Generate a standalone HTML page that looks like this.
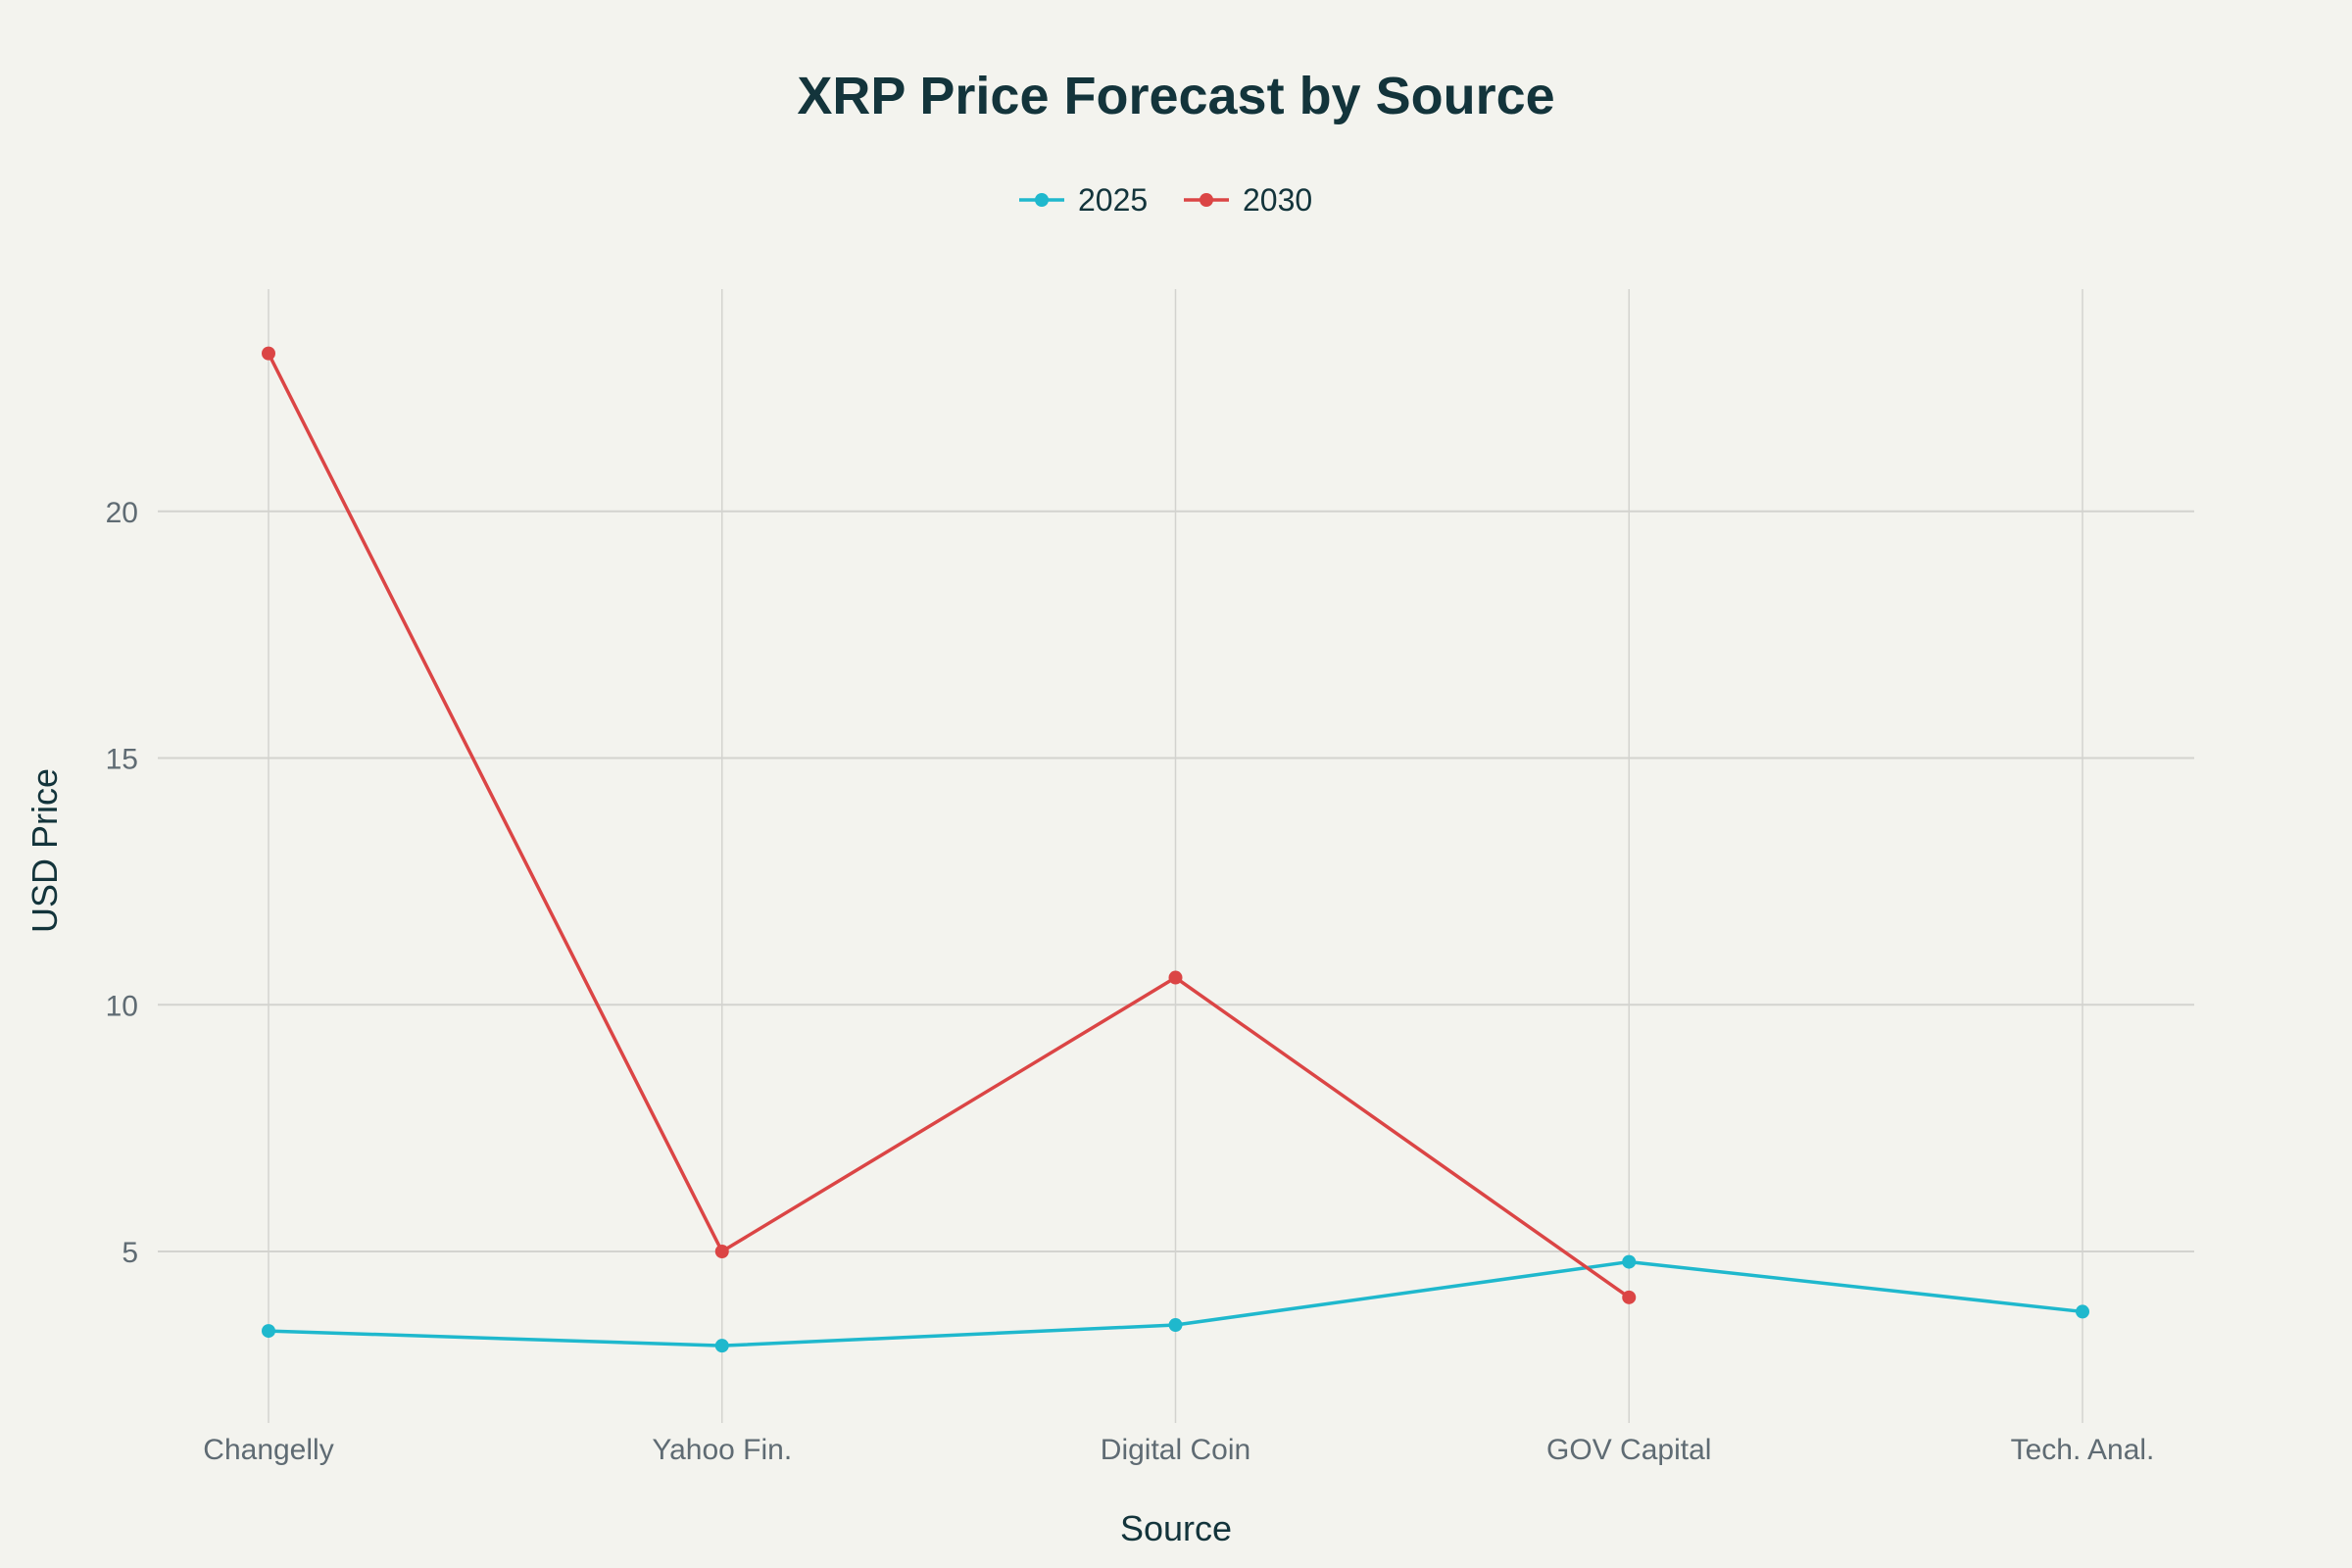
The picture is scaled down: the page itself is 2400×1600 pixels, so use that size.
<!DOCTYPE html>
<html><head><meta charset="utf-8"><style>
html,body{margin:0;padding:0;background:#f3f3ee;}
svg{display:block;font-family:"Liberation Sans",sans-serif;}
</style></head><body>
<svg id="chart" width="2400" height="1600">
<rect width="2400" height="1600" fill="#f3f3ee"/>
<text x="1200" y="116" text-anchor="middle" font-size="54" font-weight="bold" fill="#13343b">XRP Price Forecast by Source</text>
<g id="legend"></g>
<g id="grid"></g>
<g id="plot"></g>
<text x="1200" y="1572" text-anchor="middle" font-size="36" fill="#13343b">Source</text>
<text transform="translate(58,868) rotate(-90)" text-anchor="middle" font-size="36" fill="#13343b">USD Price</text>
</svg>
<script>
const categories = ["Changelly","Yahoo Fin.","Digital Coin","GOV Capital","Tech. Anal."];
const values2025 = [3.39, 3.09, 3.51, 4.79, 3.78];
const values2030 = [23.2, 5.0, 10.55, 4.07, null];
const yTicks = [5, 10, 15, 20];
const seriesNames = ["2025","2030"];
const colors = ["#1fb8cd","#db4545"];

const NS="http://www.w3.org/2000/svg";
const plotLeft=161,plotRight=2239,plotTop=295,plotBottom=1452;
function xPos(i){return 274+i*(2125-274)/(categories.length-1);}
function yPos(v){return 1277-(v-5)*50.35;}
function mk(tag,attrs,parent){const e=document.createElementNS(NS,tag);for(const k in attrs)e.setAttribute(k,attrs[k]);parent.appendChild(e);return e;}
const gridG=document.getElementById('grid'), plotG=document.getElementById('plot'), legendG=document.getElementById('legend');

yTicks.forEach(t=>{
  const l=mk('line',{x1:plotLeft,x2:plotRight,y1:yPos(t),y2:yPos(t),stroke:'#d3d3cf','stroke-width':2},gridG);
  
  
  const tx=mk('text',{x:141,y:yPos(t)+11,'text-anchor':'end','font-size':30,fill:'#5f6b73'},gridG);
  tx.textContent=t;
  
  
});
categories.forEach((c,i)=>{
  const l=mk('line',{x1:xPos(i),x2:xPos(i),y1:plotTop,y2:plotBottom,stroke:'#d3d3cf','stroke-width':1.5},gridG);
  
  
  const tx=mk('text',{x:xPos(i),y:1489,'text-anchor':'middle','font-size':30,fill:'#5f6b73'},gridG);
  tx.textContent=c;
  
  
});

[values2025,values2030].forEach((vals,s)=>{
  const g=mk('g',{},plotG);
  
  
  const pts=[];
  vals.forEach((v,i)=>{if(v!==null)pts.push(xPos(i)+','+yPos(v));});
  const pl=mk('polyline',{points:pts.join(' '),fill:'none',stroke:colors[s],'stroke-width':3.5,'stroke-linejoin':'round'},g);
  
  
  vals.forEach((v,i)=>{
    if(v===null)return;
    const c=mk('circle',{cx:xPos(i),cy:yPos(v),r:7,fill:colors[s]},g);
    
    
  });
});

const lx=[1040,1208];
seriesNames.forEach((n,s)=>{
  const g=mk('g',{},legendG);
  
  
  mk('line',{x1:lx[s],x2:lx[s]+46,y1:204,y2:204,stroke:colors[s],'stroke-width':3.5},g);
  mk('circle',{cx:lx[s]+23,cy:204,r:7,fill:colors[s]},g);
  const t=mk('text',{x:lx[s]+60,y:215,'font-size':32,fill:'#13343b'},g);
  t.textContent=n;
});
</script>
</body></html>
